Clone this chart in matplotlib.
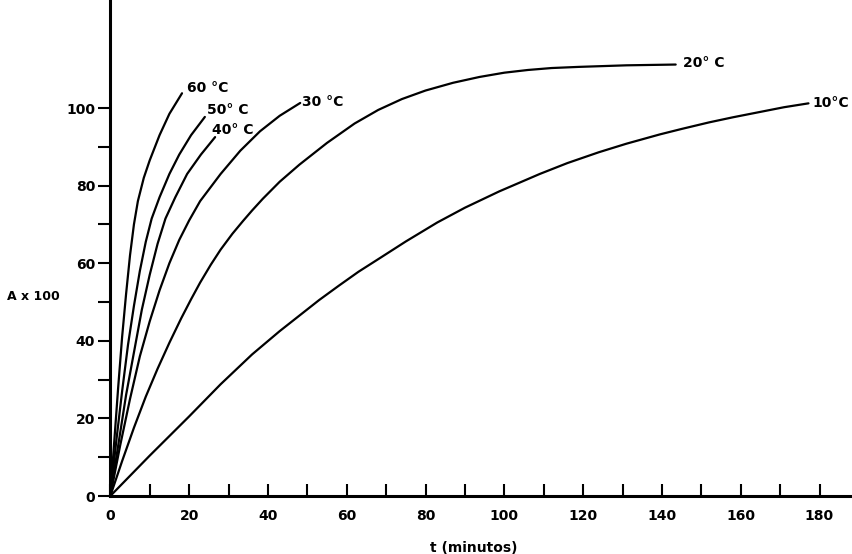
import matplotlib
matplotlib.use("Agg")
import matplotlib.pyplot as plt

# Data (t in minutes, A x 100)
t_60 = [0, 1.0, 2.0, 3.0, 4.0, 5.0, 6.0, 7.0, 8.5, 10.0, 12.5, 15.0, 18.2]
a_60 = [0, 14, 28, 41, 52, 62, 70, 76, 82, 86.5, 93, 98.5, 103.8]

t_50 = [0, 1.5, 3.0, 4.5, 6.0, 7.5, 9.0, 10.5, 12.5, 15.0, 17.5, 20.5, 24.0]
a_50 = [0, 14, 27, 39, 49, 58, 65.5, 71.5, 77, 83, 88, 93, 97.7]

t_40 = [0, 2.0, 4.0, 6.0, 8.0, 10.0, 12.0, 14.0, 16.5, 19.5, 23.0, 26.6]
a_40 = [0, 13, 26, 37, 48, 57, 65, 71.5, 77, 83, 88, 92.5]

t_30 = [0, 2.5, 5.0, 7.5, 10.0, 12.5, 15.0, 17.5, 20.0, 22.8, 28.0, 33.0, 38.0, 43.0, 48.2]
a_30 = [0, 13, 25, 36, 45, 53, 60, 66, 71, 76, 83, 89, 94, 98, 101.3]

t_20 = [0, 3.0, 6.0, 9.0, 12.0, 15.0, 18.0, 20.5, 22.8, 25.5, 28.0, 31.0, 33.7, 36.0,
        38.7, 43.0, 48.0, 55.0, 62.0, 68.0, 74.0, 80.0, 87.0, 93.7, 100.0, 106.0,
        112.0, 119.0, 131.0, 143.5]
a_20 = [0, 9, 17.6, 25.6, 32.8, 39.5, 45.8, 50.7, 55, 59.6, 63.5, 67.6, 70.9, 73.6,
        76.6, 81, 85.4, 91, 96, 99.5, 102.3, 104.5, 106.5, 108, 109.1, 109.8,
        110.3, 110.6, 111, 111.2]

t_10 = [0, 10.0, 20.0, 28.0, 36.0, 43.0, 48.0, 53.0, 58.0, 63.0, 68.4, 75.0, 83.0,
        90.0, 98.7, 109.0, 116.0, 124.0, 131.0, 139.5, 145.0, 152.0, 158.0, 165.0,
        171.0, 177.2]
a_10 = [0, 10.4, 20.5, 28.8, 36.5, 42.5, 46.5, 50.5, 54.2, 57.8, 61.3, 65.6, 70.5,
        74.3, 78.5, 83, 85.8, 88.6, 90.8, 93.2, 94.6, 96.3, 97.6, 99, 100.2, 101.2]

series = [(t_60, a_60), (t_50, a_50), (t_40, a_40), (t_30, a_30), (t_20, a_20), (t_10, a_10)]

labels = ["60 °C", "50° C", "40° C", "30 °C", "20° C", "10°C"]
label_pos = [(19.5, 105.2), (24.5, 99.5), (25.8, 94.3), (48.7, 101.5), (145.4, 111.6), (178.1, 101.3)]

x_major = [0, 20, 40, 60, 80, 100, 120, 140, 160, 180]
x_minor = [10, 30, 50, 70, 90, 110, 130, 150, 170]
y_major = [0, 20, 40, 60, 80, 100]
y_minor = [10, 30, 50, 70, 90]

fig = plt.figure(figsize=(8.52, 5.54), dpi=100)
ax = fig.add_axes([110.3 / 852, 58 / 554, (852 - 110.3) / 852, 496 / 554])

for t, a in series:
    ax.plot(t, a, color="black", lw=1.6, solid_capstyle="round", solid_joinstyle="round")

for lab, (x, y) in zip(labels, label_pos):
    ax.text(x, y, lab, fontsize=10, fontweight="bold", ha="left", va="center")

ax.set_xlim(0, (852 - 110.3) / 3.94)
ax.set_ylim(0, 496 / 3.88)

ax.spines["top"].set_visible(False)
ax.spines["right"].set_visible(False)
ax.spines["left"].set_linewidth(2.2)
ax.spines["bottom"].set_linewidth(2.2)

ax.set_xticks(x_major)
ax.set_xticks(x_minor, minor=True)
ax.set_yticks(y_major)
ax.set_yticks(y_minor, minor=True)
ax.set_xticklabels([str(v) for v in x_major], fontsize=10, fontweight="bold")
ax.set_yticklabels([str(v) for v in y_major], fontsize=10, fontweight="bold")

ax.tick_params(axis="x", which="both", direction="in", length=9, width=1.5, pad=9)
ax.tick_params(axis="y", which="both", direction="out", length=9, width=1.5, pad=2)

fig.text(474 / 852, 1 - 548 / 554, "t (minutos)", fontsize=10, fontweight="bold",
         ha="center", va="center")
fig.text(33 / 852, 1 - 297 / 554, "A x 100", fontsize=9, fontweight="bold",
         ha="center", va="center")

fig.savefig("out.png", dpi=100)
